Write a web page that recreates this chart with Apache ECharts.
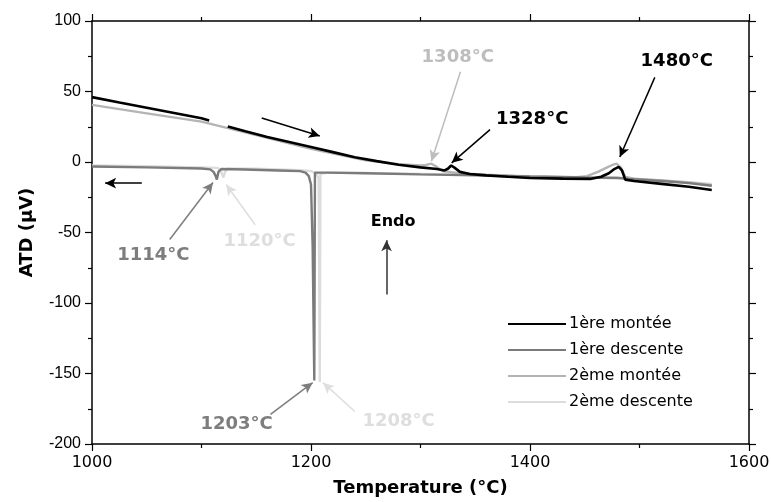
<!DOCTYPE html>
<html>
<head>
<meta charset="utf-8">
<script src="https://cdn.jsdelivr.net/npm/echarts@6/dist/echarts.min.js"></script>
<style>
  html, body { margin: 0; padding: 0; background: #ffffff; }
  #chart { width: 771px; height: 502px; }
</style>
</head>
<body>
<div id="chart"></div>
<script>
// Thermal analysis (ATD) runs: temperatures in °C, signal in µV.
const seriesNames = ['1ère montée', '1ère descente', '2ème montée', '2ème descente'];

// 1st heating run ('-' marks a missing stretch of the record)
const montee1T = [1000, 1025, 1050, 1075, 1100, 1107, 1115, 1124, 1140, 1160, 1180, 1200, 1220, 1240, 1260, 1280, 1300, 1315, 1322, 1325, 1328, 1331, 1336, 1345, 1360, 1380, 1400, 1430, 1455, 1465, 1472, 1477, 1481, 1484, 1487, 1495, 1520, 1545, 1566];
const montee1V = [46, 42.2, 38.5, 34.8, 31, 29.5, '-', 25.2, 21.8, 17.8, 14.2, 10.6, 7, 3.4, 0.6, -2, -3.8, -5, -6, -4.8, -2.5, -4, -7, -8.5, -9.5, -10.5, -11.3, -11.8, -12, -10.5, -8, -5, -3.5, -6, -12.5, -13.5, -15.5, -17.5, -19.8];

// 1st cooling run
const descente1T = [1000, 1050, 1100, 1108, 1111, 1113, 1114, 1115.5, 1118, 1140, 1170, 1190, 1195, 1198, 1200, 1201.5, 1203, 1203.6, 1215, 1250, 1300, 1350, 1400, 1450, 1480, 1490, 1520, 1545, 1566];
const descente1V = [-3.2, -3.8, -4.6, -5.2, -7, -10, -12.5, -7, -5, -5.3, -6, -6.5, -7.5, -10, -16, -60, -155, -7.5, -7.5, -8, -8.8, -9.5, -10.3, -11, -11.3, -12, -13.5, -15, -16.8];

// 2nd heating run
const montee2T = [1000, 1050, 1100, 1124, 1150, 1200, 1250, 1280, 1300, 1305, 1310, 1314, 1320, 1335, 1360, 1400, 1440, 1452, 1462, 1470, 1476, 1479, 1483, 1487, 1495, 1520, 1545, 1566];
const montee2V = [40.5, 34.5, 28.6, 24, 19, 9.3, 1.2, -1.5, -2.5, -2, -1.2, -3, -6.5, -8, -9, -10.5, -11, -10, -7, -4, -1.8, -1.2, -4, -10.5, -11.8, -13, -14.5, -16.5];

// 2nd cooling run
const descente2T = [1000, 1050, 1100, 1115, 1118, 1120, 1121.5, 1124, 1150, 1190, 1200, 1205, 1207, 1208, 1208.6, 1215, 1250, 1300, 1350, 1400, 1450, 1480, 1490, 1520, 1545, 1566];
const descente2V = [-2.5, -3, -3.8, -4.2, -7, -11, -7, -4.5, -4.8, -5.8, -6.5, -8, -12, -156, -8.5, -7.5, -7.8, -8.5, -9.2, -10, -10.7, -11, -11.8, -13, -14.3, -15.5];

// Axis ticks
const xTicks = { min: 1000, max: 1600, step: 200 };
const yTicks = { min: -200, max: 100, step: 50 };

// Transition temperatures read on the curves
const peakTexts = ['1308°C', '1328°C', '1480°C', '1114°C', '1120°C', '1203°C', '1208°C'];

const colors = ['#000000', '#7b7b7b', '#b4b4b4', '#dcdcdc'];
const FONT = '"DejaVu Sans", sans-serif';

function pairs(ts, vs) { return ts.map((t, i) => [t, vs[i]]); }

// Annotation layout (data coordinates): text anchor, arrow tail, arrow head
const notes = [
  { text: peakTexts[0], color: '#bdbdbd', at: [1334, 74],   from: [1336.5, 64],  to: [1310, 0.6] },
  { text: peakTexts[1], color: '#000000', at: [1402, 30],   from: [1363.5, 23],  to: [1328.5, -0.6] },
  { text: peakTexts[2], color: '#000000', at: [1534, 71.5], from: [1514, 60],    to: [1482, 3.5] },
  { text: peakTexts[3], color: '#7d7d7d', at: [1056, -66],  from: [1071, -55],   to: [1110.5, -14.5] },
  { text: peakTexts[4], color: '#dedede', at: [1153, -56],  from: [1149, -44.5], to: [1122.5, -16] },
  { text: peakTexts[5], color: '#7d7d7d', at: [1132, -186], from: [1163, -179],  to: [1201.5, -156.5] },
  { text: peakTexts[6], color: '#dedede', at: [1280, -184], from: [1240, -177],  to: [1211, -156.5] }
];
const plainArrows = [
  { color: '#000000', from: [1155, 31.2], to: [1208, 18.5] },
  { color: '#000000', from: [1045.5, -15], to: [1012, -15] },
  { color: '#333333', from: [1269, -94], to: [1269, -55.5] }
];

const arrowLines = notes.concat(plainArrows).map(a => [
  { coord: a.from, lineStyle: { color: a.color } },
  { coord: a.to }
]);
const labelPoints = notes.map(n => ({
  value: n.at, name: n.text,
  label: { color: n.color }
})).concat([{ value: [1275, -42.5], name: 'Endo', label: { color: '#000', fontSize: 16 } }]);

const lineSeries = [
  { T: montee1T, V: montee1V, z: 5 },
  { T: descente1T, V: descente1V, z: 4 },
  { T: montee2T, V: montee2V, z: 3 },
  { T: descente2T, V: descente2V, z: 2 }
].map((s, i) => ({
  name: seriesNames[i],
  type: 'line',
  data: pairs(s.T, s.V),
  showSymbol: false,
  symbol: 'none',
  z: s.z,
  lineStyle: { color: colors[i], width: i === 0 ? 2.6 : 2.4 },
  itemStyle: { color: colors[i] },
  animation: false
}));

function axisCommon() {
  return {
    axisLine: { show: true, onZero: false, lineStyle: { color: '#000', width: 1.5 } },
    axisTick: { show: true, inside: false, length: 7, lineStyle: { color: '#000', width: 1.2 } },
    minorTick: { show: true, splitNumber: 2, length: 4, lineStyle: { color: '#000', width: 1.2 } },
    splitLine: { show: false }
  };
}

const option = {
  animation: false,
  backgroundColor: '#ffffff',
  grid: { left: 92, right: 22, top: 21, bottom: 58, containLabel: false, outerBoundsMode: 'none' },
  xAxis: [
    Object.assign({
      type: 'value', position: 'bottom',
      min: xTicks.min, max: xTicks.max, interval: xTicks.step,
      name: 'Temperature (°C)', nameLocation: 'middle', nameGap: 35,
      nameTextStyle: { fontFamily: FONT, fontWeight: 'bold', fontSize: 18, color: '#000' },
      axisLabel: { fontFamily: FONT, fontSize: 16, color: '#000', margin: 11, formatter: v => String(v) }
    }, axisCommon()),
    Object.assign({
      type: 'value', position: 'top',
      min: xTicks.min, max: xTicks.max, interval: xTicks.step,
      axisLabel: { show: false }
    }, axisCommon())
  ],
  yAxis: [
    Object.assign({
      type: 'value', position: 'left',
      min: yTicks.min, max: yTicks.max, interval: yTicks.step,
      name: 'ATD (μV)', nameLocation: 'middle', nameGap: 56, nameRotate: 90,
      nameTextStyle: { fontFamily: FONT, fontWeight: 'bold', fontSize: 18, color: '#000' },
      axisLabel: { fontFamily: '"Liberation Sans", Arial, sans-serif', fontSize: 16, color: '#000', margin: 11, formatter: v => String(v) }
    }, axisCommon()),
    Object.assign({
      type: 'value', position: 'right',
      min: yTicks.min, max: yTicks.max, interval: yTicks.step,
      axisLabel: { show: false }
    }, axisCommon())
  ],
  legend: {
    data: seriesNames,
    orient: 'vertical',
    left: 503, top: 311,
    itemWidth: 58, itemHeight: 12, itemGap: 10,
    icon: 'path://M0,5 L58,5 L58,7 L0,7 Z',
    textStyle: { fontFamily: FONT, fontSize: 16, color: '#000', padding: [0, 0, 0, -2] }
  },
  series: lineSeries.concat([
    {
      name: 'notes',
      type: 'scatter',
      data: labelPoints,
      symbolSize: 0,
      silent: true,
      z: 10,
      itemStyle: { opacity: 1 },
      label: {
        show: true, position: 'inside', formatter: '{b}',
        fontFamily: FONT, fontWeight: 'bold', fontSize: 18, opacity: 1
      },
      markLine: {
        silent: true,
        symbol: ['none', 'arrow'],
        symbolSize: [8, 11],
        label: { show: false },
        lineStyle: { type: 'solid', width: 1.5, opacity: 1 },
        data: arrowLines,
        animation: false
      },
      animation: false
    }
  ])
};

const chart = echarts.init(document.getElementById('chart'), null, { renderer: 'canvas' });
chart.setOption(option);
</script>
</body>
</html>
